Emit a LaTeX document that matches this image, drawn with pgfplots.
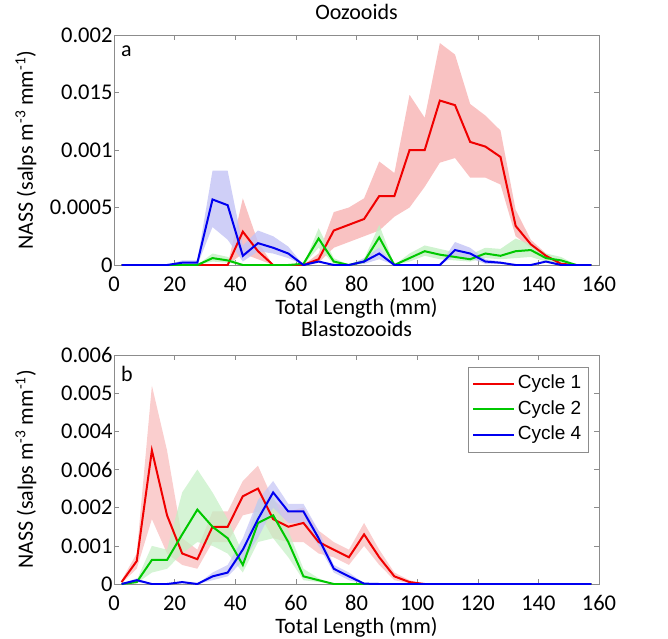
\documentclass[border=0pt]{standalone}
\usepackage{pgfplots}
\pgfplotsset{compat=1.18}
\usepackage{pgfplotstable}
\usepackage{fontspec}
\setmainfont{Carlito}
\newfontfamily\arial{Liberation Sans}
\definecolor{cr}{RGB}{240,0,0}
\definecolor{cg}{RGB}{0,200,0}
\definecolor{cb}{RGB}{0,0,240}
\definecolor{fr}{RGB}{249,194,194}
\definecolor{fg}{RGB}{195,240,195}
\definecolor{fb}{RGB}{195,195,245}

\pgfplotstableread{
x r g b
2.5 0 0 0
7.5 0 0 0
12.5 0 0 0
17.5 0 0 0
22.5 0 0 0.00002
27.5 0 0 0.00002
32.5 0 0.00006 0.00057
37.5 0 0.00004 0.00052
42.5 0.00029 0 0.00008
47.5 0.00012 0 0.00019
52.5 0 0 0.00015
57.5 0 0 0.0001
62.5 0 0.00001 0
67.5 0.00005 0.00023 0.00003
72.5 0.0003 0.00003 0
77.5 0.00035 0 0
82.5 0.0004 0.00003 0.00003
87.5 0.0006 0.00024 0.0001
92.5 0.0006 0 0
97.5 0.001 0.00006 0
102.5 0.001 0.00012 0
107.5 0.00143 0.00009 0
112.5 0.00139 0.00007 0.00013
117.5 0.00107 0.00005 0.0001
122.5 0.00103 0.0001 0.00003
127.5 0.00094 0.00008 0.00002
132.5 0.00034 0.00012 0
137.5 0.00018 0.00013 0
142.5 0.00008 0.00006 0.00003
147.5 0.00001 0.00004 0
152.5 0 0 0
157.5 0 0 0
}\oozo

\pgfplotstableread{
x r g b
2.5 0.00005 0 0
7.5 0.0006 0.00005 0.0001
12.5 0.0035 0.00063 0
17.5 0.0018 0.00063 0
22.5 0.0008 0.0013 0.00005
27.5 0.00065 0.00195 0
32.5 0.0015 0.0015 0.0002
37.5 0.0015 0.0012 0.0003
42.5 0.0023 0.0005 0.0009
47.5 0.0025 0.0016 0.0017
52.5 0.0017 0.0018 0.0024
57.5 0.0015 0.0011 0.0019
62.5 0.0016 0.0002 0.0019
67.5 0.0011 0.0001 0.0012
72.5 0.0009 0 0.0004
77.5 0.0007 0 0.0002
82.5 0.0013 0 0.00001
87.5 0.0007 0 0
92.5 0.0002 0 0
97.5 0.00005 0 0
102.5 0 0 0
107.5 0 0 0
112.5 0 0 0
117.5 0 0 0
122.5 0 0 0
127.5 0 0 0
132.5 0 0 0
137.5 0 0 0
142.5 0 0 0
147.5 0 0 0
152.5 0 0 0
157.5 0 0 0
}\blasto

\pgfplotsset{
  myax/.style={
    scale only axis, width=485pt,
    xmin=0, xmax=160, xtick={0,20,...,160},
    scaled y ticks=false,
    /pgf/number format/assume math mode=true,
    tick align=inside, major tick length=5pt,
    axis line style={black!45},
    every tick/.style={black!45},
    tick label style={font=\fontsize{22.5}{27}\selectfont},
    xticklabel style={anchor=base, yshift=-26pt},
    yticklabel style={xshift=2pt},
    xlabel={\fontsize{22}{26}\selectfont Total Length (mm)},
    ylabel={\fontsize{22}{26}\selectfont NASS (salps m\textsuperscript{-3} mm\textsuperscript{-1})},
    xlabel style={at={(axis description cs:0.5,0)}, anchor=base, yshift=-49pt},
    ylabel style={at={(axis description cs:0,0.5)}, anchor=base, yshift=81pt},
    title style={at={(axis description cs:0.5,1)}, anchor=base},
  },
  band/.style={draw=none, forget plot},
  ln/.style={line width=2pt},
}

\begin{document}
\begin{tikzpicture}
\useasboundingbox (-114pt,-373pt) rectangle (554pt,265pt);
\begin{axis}[myax, height=230pt, at={(0pt,0pt)}, anchor=south west,
  ymin=0, ymax=0.002, ytick={0,0.0005,0.001,0.0015,0.002},
  yticklabels={0,0.0005,0.001,0.015,0.002},
  title={\fontsize{22}{26}\selectfont Oozooids}, title style={yshift=10pt}]
% red bands
\addplot[band, fill=fr] coordinates {(37.5,0)(42.5,0.00058)(47.5,0.0002)(52.5,0)(47.5,0.00005)(42.5,0.0001)};
\addplot[band, fill=fr] coordinates {(62.5,0)(67.5,0.0001)(72.5,0.00046)(77.5,0.0005)(82.5,0.00058)(87.5,0.0009)(92.5,0.0008)(97.5,0.00148)(102.5,0.00128)(107.5,0.00193)(112.5,0.00183)(117.5,0.0014)(122.5,0.0013)(127.5,0.00117)(132.5,0.00048)(137.5,0.00022)(142.5,0.0001)(147.5,0.00002)(152.5,0)(147.5,0)(142.5,0.00006)(137.5,0.00015)(132.5,0.00025)(127.5,0.0007)(122.5,0.00076)(117.5,0.00076)(112.5,0.00093)(107.5,0.00089)(102.5,0.00068)(97.5,0.0005)(92.5,0.00042)(87.5,0.0003)(82.5,0.00025)(77.5,0.0002)(72.5,0.00015)(67.5,0.00002)};
% green bands
\addplot[band, fill=fg, fill opacity=0.8] coordinates {(27.5,0)(32.5,0.0001)(37.5,0.00007)(42.5,0)(37.5,0.00002)(32.5,0.00003)};
\addplot[band, fill=fg, fill opacity=0.8] coordinates {(62.5,0)(67.5,0.00032)(72.5,0.00006)(77.5,0)(72.5,0.00001)(67.5,0.00015)};
\addplot[band, fill=fg, fill opacity=0.8] coordinates {(77.5,0)(82.5,0.00005)(87.5,0.00035)(92.5,0)(87.5,0.00015)(82.5,0.00001)};
\addplot[band, fill=fg, fill opacity=0.8] coordinates {(92.5,0)(97.5,0.0001)(102.5,0.00017)(107.5,0.00014)(112.5,0.00011)(117.5,0.00009)(122.5,0.00015)(127.5,0.00014)(132.5,0.00023)(137.5,0.00018)(142.5,0.0001)(147.5,0.00007)(152.5,0)(147.5,0.00002)(142.5,0.00003)(137.5,0.00007)(132.5,0.00006)(127.5,0.00005)(122.5,0.00006)(117.5,0.00003)(112.5,0.00004)(107.5,0.00005)(102.5,0.00008)(97.5,0.00003)};
% blue bands
\addplot[band, fill=fb, fill opacity=0.8] coordinates {(17.5,0)(22.5,0.00004)(27.5,0.00004)(32.5,0.00082)(37.5,0.00082)(42.5,0.00017)(47.5,0.0003)(52.5,0.00025)(57.5,0.00016)(62.5,0)(57.5,0.00006)(52.5,0.0001)(47.5,0.00012)(42.5,0.00003)(37.5,0.00022)(32.5,0.00033)(27.5,0)(22.5,0)};
\addplot[band, fill=fb, fill opacity=0.8] coordinates {(77.5,0)(82.5,0.00006)(87.5,0.00015)(92.5,0)(87.5,0.00005)(82.5,0.00001)};
\addplot[band, fill=fb, fill opacity=0.8] coordinates {(107.5,0)(112.5,0.0002)(117.5,0.00015)(122.5,0.00005)(127.5,0.00003)(132.5,0)(127.5,0.00001)(122.5,0.00001)(117.5,0.00006)(112.5,0.00008)};
\addplot[ln, cr] table[x=x,y=r]{\oozo};
\addplot[ln, cg] table[x=x,y=g]{\oozo};
\addplot[ln, cb] table[x=x,y=b]{\oozo};
\node[anchor=base west, inner sep=0pt, font=\fontsize{22}{26}\selectfont] at ([xshift=7pt,yshift=-21pt]rel axis cs:0,1) {a};
\end{axis}

\begin{axis}[myax, height=229pt, at={(0pt,-319pt)}, anchor=south west,
  ymin=0, ymax=0.006, ytick={0,0.001,0.002,0.003,0.004,0.005,0.006},
  yticklabels={0,0.001,0.002,0.006,0.004,0.005,0.006},
  title={\fontsize{22}{26}\selectfont Blastozooids}, title style={yshift=13pt},
  legend style={at={(axis description cs:1,1)}, anchor=north east,
    xshift=-11pt, yshift=-12pt,
    draw=black!45, font=\arial\fontsize{19}{23}\selectfont,
    row sep=0pt, inner sep=4pt,
    nodes={inner sep=2.5pt, text height=15pt, text depth=5.5pt}},
  legend cell align=left,
  legend image code/.code={\draw[#1, line width=2pt] (0pt,0pt) -- (41pt,0pt);}]
\addplot[band, fill=fr, fill opacity=0.8] coordinates {(2.5,0.0001)(7.5,0.0008)(12.5,0.0052)(17.5,0.0035)(22.5,0.0012)(27.5,0.0009)(32.5,0.0019)(37.5,0.0019)(42.5,0.0027)(47.5,0.0031)(52.5,0.0022)(57.5,0.0019)(62.5,0.002)(67.5,0.0014)(72.5,0.0011)(77.5,0.0009)(82.5,0.0016)(87.5,0.0009)(92.5,0.0003)(97.5,0.0001)(102.5,0)(97.5,0.00002)(92.5,0.0001)(87.5,0.0005)(82.5,0.001)(77.5,0.0005)(72.5,0.0007)(67.5,0.0008)(62.5,0.0011)(57.5,0.0011)(52.5,0.0012)(47.5,0.0019)(42.5,0.0018)(37.5,0.0011)(32.5,0.0011)(27.5,0.0004)(22.5,0.0005)(17.5,0.0008)(12.5,0.0017)(7.5,0.0004)(2.5,0.00002)};
\addplot[band, fill=fg, fill opacity=0.7] coordinates {(2.5,0)(7.5,0.0001)(12.5,0.001)(17.5,0.0009)(22.5,0.0024)(27.5,0.003)(32.5,0.0024)(37.5,0.0017)(42.5,0.0008)(47.5,0.0022)(52.5,0.0023)(57.5,0.0014)(62.5,0.0004)(67.5,0.00015)(72.5,0)(67.5,0.00005)(62.5,0.0001)(57.5,0.0007)(52.5,0.0012)(47.5,0.0011)(42.5,0.0003)(37.5,0.0008)(32.5,0.001)(27.5,0.0011)(22.5,0.0008)(17.5,0.0004)(12.5,0.0003)(7.5,0.00002)};
\addplot[band, fill=fb, fill opacity=0.7] coordinates {(2.5,0)(7.5,0.00015)(12.5,0)(17.5,0)(22.5,0.00008)(27.5,0)(32.5,0.0003)(37.5,0.0005)(42.5,0.0012)(47.5,0.0022)(52.5,0.0027)(57.5,0.0021)(62.5,0.0021)(67.5,0.0014)(72.5,0.0005)(77.5,0.0003)(82.5,0.00002)(87.5,0)(82.5,0)(77.5,0.0001)(72.5,0.0003)(67.5,0.001)(62.5,0.0016)(57.5,0.0016)(52.5,0.002)(47.5,0.0012)(42.5,0.0006)(37.5,0.0002)(32.5,0.0001)(27.5,0)(22.5,0.00002)(17.5,0)(12.5,0)(7.5,0.00005)};
\addplot[ln, cr] table[x=x,y=r]{\blasto};
\addlegendentry{Cycle 1}
\addplot[ln, cg] table[x=x,y=g]{\blasto};
\addlegendentry{Cycle 2}
\addplot[ln, cb] table[x=x,y=b]{\blasto};
\addlegendentry{Cycle 4}
\node[anchor=base west, inner sep=0pt, font=\fontsize{22}{26}\selectfont] at ([xshift=7pt,yshift=-26pt]rel axis cs:0,1) {b};
\end{axis}
\end{tikzpicture}
\end{document}
